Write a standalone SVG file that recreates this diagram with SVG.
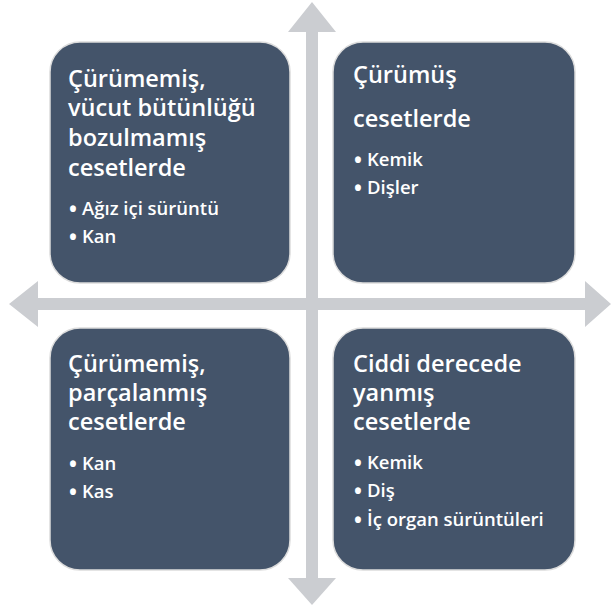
<svg xmlns="http://www.w3.org/2000/svg" width="611" height="615" viewBox="0 0 611 615">
<style>
.box{fill:#44546A;stroke:#dcdcdc;stroke-width:1.5}
.arrow{fill:#CBCDD1}
.t{font-family:"Open Sans","Liberation Sans",sans-serif;fill:#ffffff;font-size:23.5px;font-weight:600}
.b{font-family:"Open Sans","Liberation Sans",sans-serif;fill:#ffffff;font-size:18.5px;font-weight:600}
.d{font-size:21px;font-weight:700}
</style>
<rect width="611" height="615" fill="#ffffff"/>
<g id="connectors">
<polygon class="arrow" points="312,2 336,32 318,32 318,578 336,578 312,605 288,578 306,578 306,32 288,32"/>
<polygon class="arrow" points="9,304 38,281 38,298 585,298 585,281 611,304 585,327 585,310 38,310 38,327"/>
</g>
<g id="node-tl">
<rect class="box" x="50" y="42" width="240" height="241" rx="30"/>
<text class="t" x="68" y="87">Çürümemiş,</text>
<text class="t" x="68" y="116">vücut bütünlüğü</text>
<text class="t" x="68" y="146">bozulmamış</text>
<text class="t" x="68" y="176">cesetlerde</text>
<text class="b" x="69" y="217"><tspan class="d">•</tspan><tspan x="82" y="215">Ağız içi sürüntü</tspan></text>
<text class="b" x="69" y="245"><tspan class="d">•</tspan><tspan x="82" y="243">Kan</tspan></text>
</g>
<g id="node-tr">
<rect class="box" x="333" y="42" width="242" height="241" rx="30"/>
<text class="t" x="353" y="83">Çürümüş</text>
<text class="t" x="353" y="127">cesetlerde</text>
<text class="b" x="354" y="168"><tspan class="d">•</tspan><tspan x="367" y="166">Kemik</tspan></text>
<text class="b" x="354" y="196"><tspan class="d">•</tspan><tspan x="367" y="194">Dişler</tspan></text>
</g>
<g id="node-bl">
<rect class="box" x="50" y="328" width="240" height="242" rx="30"/>
<text class="t" x="68" y="372">Çürümemiş,</text>
<text class="t" x="68" y="401">parçalanmış</text>
<text class="t" x="68" y="430">cesetlerde</text>
<text class="b" x="69" y="472"><tspan class="d">•</tspan><tspan x="82" y="470">Kan</tspan></text>
<text class="b" x="69" y="500"><tspan class="d">•</tspan><tspan x="82" y="498">Kas</tspan></text>
</g>
<g id="node-br">
<rect class="box" x="333" y="328" width="242" height="242" rx="30"/>
<text class="t" x="353" y="372">Ciddi derecede</text>
<text class="t" x="353" y="401">yanmış</text>
<text class="t" x="353" y="430">cesetlerde</text>
<text class="b" x="354" y="471"><tspan class="d">•</tspan><tspan x="367" y="469">Kemik</tspan></text>
<text class="b" x="354" y="499"><tspan class="d">•</tspan><tspan x="367" y="497">Diş</tspan></text>
<text class="b" x="354" y="528"><tspan class="d">•</tspan><tspan x="367" y="526">İç organ sürüntüleri</tspan></text>
</g>
</svg>
